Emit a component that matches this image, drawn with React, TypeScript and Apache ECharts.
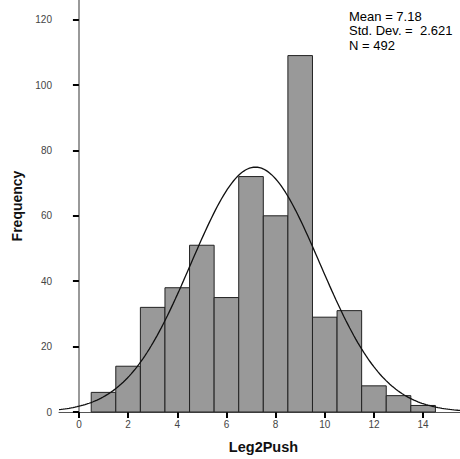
import React, { useEffect, useRef } from "react";
import * as echarts from "echarts";

const binCenters = [1, 2, 3, 4, 5, 6, 7, 8, 9, 10, 11, 12, 13, 14];
const frequencies = [6, 14, 32, 38, 51, 35, 72, 60, 109, 29, 31, 8, 5, 2];
const xTicks = [0, 2, 4, 6, 8, 10, 12, 14];
const yTicks = [0, 20, 40, 60, 80, 100, 120];
const statMean = 7.18;
const statSd = 2.621;
const statN = 492;
const binWidth = 1;

export default function App() {
  const ref = useRef<HTMLDivElement>(null);
  useEffect(() => {
    if (!ref.current) return;
    const chart = echarts.init(ref.current, null, { renderer: "svg" });
    const xMin = -0.81;
    const xMax = 15.5;
    const curve: number[][] = [];
    for (let i = 0; i <= 200; i++) {
      const x = xMin + ((xMax - xMin) * i) / 200;
      const z = (x - statMean) / statSd;
      const y = (statN * binWidth) / (statSd * Math.sqrt(2 * Math.PI)) * Math.exp(-0.5 * z * z);
      curve.push([x, y]);
    }
    const bars = binCenters.map((c, i) => [c, frequencies[i]]);
    chart.setOption({
      animation: false,
      textStyle: { fontFamily: "Liberation Sans, Arial, sans-serif" },
      grid: { left: 59, right: 0, top: 0, bottom: 45 },
      xAxis: {
        type: "value",
        min: xMin,
        max: xMax,
        name: "Leg2Push",
        nameLocation: "middle",
        nameGap: 27,
        nameTextStyle: { fontSize: 14.5, fontWeight: "bold", color: "#111", padding: [0, 0, 0, 8] },
        splitLine: { show: false },
        axisLine: { show: true, onZero: false, lineStyle: { color: "#555", width: 1 } },
        axisTick: { show: true, customValues: xTicks, length: 6, lineStyle: { color: "#000", width: 2 } },
        axisLabel: { customValues: xTicks, fontSize: 10, color: "#444", margin: 7 },
      },
      yAxis: {
        type: "value",
        min: 0,
        max: 126,
        name: "Frequency",
        nameLocation: "middle",
        nameGap: 35,
        nameRotate: 90,
        nameTextStyle: { fontSize: 14, fontWeight: "bold", color: "#111" },
        splitLine: { show: false },
        axisLine: { show: true, lineStyle: { color: "#777", width: 1.5 } },
        axisTick: { show: true, customValues: yTicks, length: 6, lineStyle: { color: "#000", width: 2 } },
        axisLabel: { customValues: yTicks, fontSize: 10, color: "#444", margin: 7 },
      },
      series: [
        {
          type: "custom",
          data: bars,
          z: 2,
          renderItem: (params: any, api: any) => {
            const x = api.value(0);
            const y = api.value(1);
            const p0 = api.coord([x - binWidth / 2, y]);
            const p1 = api.coord([x + binWidth / 2, 0]);
            return {
              type: "rect",
              shape: { x: p0[0], y: p0[1], width: p1[0] - p0[0], height: p1[1] - p0[1] },
              style: { fill: "#999999", stroke: "#222", lineWidth: 1 },
            };
          },
        },
        {
          type: "line",
          data: curve,
          showSymbol: false,
          z: 3,
          lineStyle: { color: "#111", width: 1.3 },
        },
      ],
      graphic: [
        {
          type: "text",
          left: 349,
          top: 9,
          style: {
            text: "Mean = 7.18\nStd. Dev. =  2.621\nN = 492",
            fontSize: 13,
            lineHeight: 14.5,
            fill: "#000",
            fontFamily: "Liberation Sans, Arial, sans-serif",
          },
        },
      ],
    });
    return () => chart.dispose();
  }, []);
  return <div ref={ref} style={{ width: 460, height: 459, position: "absolute", left: 0, top: 0 }} />;
}
